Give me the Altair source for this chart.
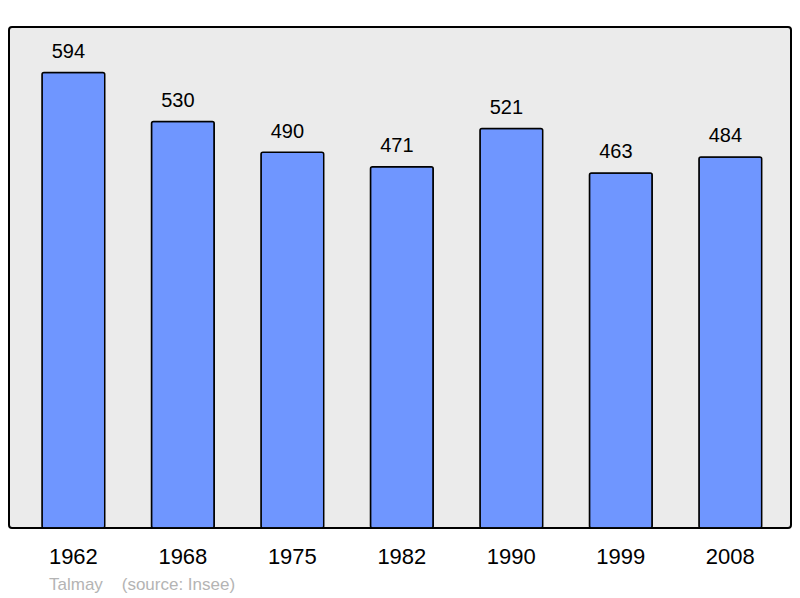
import altair as alt
import pandas as pd

years = ["1962", "1968", "1975", "1982", "1990", "1999", "2008"]
population = [594, 530, 490, 471, 521, 463, 484]
footer = "Talmay\u00a0\u00a0\u00a0 (source: Insee)"

df = pd.DataFrame({"year": years, "pop": population})

FONT = "Liberation Sans"

base = alt.Chart(df).encode(
    x=alt.X(
        "year:N",
        sort=None,
        scale=alt.Scale(range=[33, 752.7], paddingInner=0.427, paddingOuter=0),
        axis=alt.Axis(
            title=None, labelAngle=0, ticks=False, domain=False,
            labelFontSize=22, labelFont=FONT, labelColor="black",
            labelPadding=18,
        ),
    )
)

bars = base.mark_bar(
    color="#6f96ff", stroke="black", strokeWidth=1.5, cornerRadius=2
).encode(
    y=alt.Y("pop:Q", scale=alt.Scale(domain=[0, 653.4], nice=False), axis=None)
)

labels = base.mark_text(
    fontSize=20, font=FONT, dx=-5, dy=-14.5, baseline="alphabetic", color="black"
).encode(
    y=alt.Y("pop:Q"),
    text=alt.Text("pop:Q"),
)

chart = alt.layer(bars, labels).properties(
    width=782,
    height=501,
    autosize="none",
    padding={"left": 1, "top": 19, "right": 1, "bottom": 70},
    title=alt.TitleParams(
        text=footer, orient="bottom", anchor="start", dx=40, offset=10,
        fontSize=17, font=FONT, fontWeight="normal", color="#b4b4b4",
    ),
).configure_view(
    fill="#ebebeb", stroke="black", strokeWidth=2, cornerRadius=3
)

chart.save("out.html", embed_options={"renderer": "svg", "actions": False})
